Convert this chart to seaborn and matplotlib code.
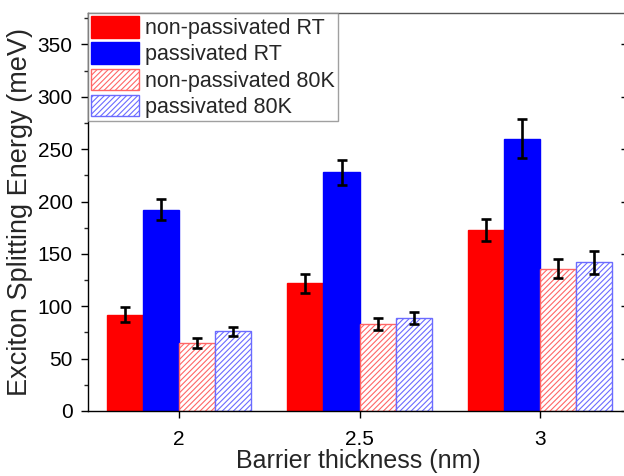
import matplotlib
matplotlib.use("Agg")
import matplotlib.pyplot as plt
import seaborn as sns
import pandas as pd
import numpy as np

categories = ["2", "2.5", "3"]
series = ["non-passivated RT", "passivated RT", "non-passivated 80K", "passivated 80K"]
nonpass_rt = [92, 122, 173]
pass_rt = [192, 228, 260]
nonpass_80k = [65, 83, 136]
pass_80k = [76, 89, 142]
nonpass_rt_err = [7, 9, 10.5]
pass_rt_err = [10, 12, 18.5]
nonpass_80k_err = [4.5, 6, 9]
pass_80k_err = [4, 5.5, 11]

values = [nonpass_rt, pass_rt, nonpass_80k, pass_80k]
errors = [nonpass_rt_err, pass_rt_err, nonpass_80k_err, pass_80k_err]

rows = []
for s, vals in zip(series, values):
    for c, v in zip(categories, vals):
        rows.append({"thickness": c, "series": s, "energy": v})
df = pd.DataFrame(rows)

sns.set_style("ticks")
plt.rcParams["font.family"] = ["Liberation Sans", "DejaVu Sans"]
plt.rcParams["hatch.linewidth"] = 0.8

fig = plt.figure(figsize=(6.24, 4.76), dpi=100)
ax = fig.add_axes([88/624, 65/476, 541/624, 398/476])

palette = {"non-passivated RT": "#ff0000", "passivated RT": "#0000ff",
           "non-passivated 80K": "#ff0000", "passivated 80K": "#0000ff"}
sns.barplot(data=df, x="thickness", y="energy", hue="series", order=categories,
            hue_order=series, palette=palette, errorbar=None, ax=ax,
            width=0.8, saturation=1, legend=False)

styles = [
    dict(face="#ff0000", edge="#ff0000", hatch=None),
    dict(face="#0000ff", edge="#0000ff", hatch=None),
    dict(face="white", edge=(1, 0.4, 0.4), hatch="//////"),
    dict(face="white", edge=(0.42, 0.42, 1.0), hatch="//////"),
]
handles = []
bar_containers = list(ax.containers)
for i, cont in enumerate(bar_containers):
    st = styles[i]
    xs, ys = [], []
    for bar in cont:
        bar.set_facecolor(st["face"])
        bar.set_edgecolor(st["edge"])
        bar.set_linewidth(1.0)
        if st["hatch"]:
            bar.set_hatch(st["hatch"])
        xs.append(bar.get_x() + bar.get_width() / 2)
        ys.append(bar.get_height())
    ax.errorbar(xs, ys, yerr=errors[i], fmt="none", ecolor="black",
                elinewidth=1.9, capsize=3.5, capthick=1.9, zorder=5)
    handles.append(matplotlib.patches.Patch(facecolor=st["face"], edgecolor=st["edge"],
                                            hatch=st["hatch"], linewidth=1.0,
                                            label=series[i]))

ax.set_xlim(-0.5056, 2.494)
ax.set_ylim(0, 380)
ax.set_yticks(np.arange(0, 351, 50))
ax.set_yticks(np.arange(25, 380, 50), minor=True)
ax.tick_params(axis="both", which="major", labelsize=15, length=5, width=1, direction="out", colors="black")
ax.tick_params(axis="y", which="minor", length=3, width=1, direction="out")
ax.tick_params(axis="x", pad=9)
ax.tick_params(axis="y", pad=6)
ax.tick_params(axis="y", which="major", right=True, direction="out")
ax.set_xlabel("Barrier thickness (nm)", fontsize=18, labelpad=0)
ax.set_ylabel("Exciton Splitting Energy (meV)", fontsize=19.5, labelpad=3)
for sp in ax.spines.values():
    sp.set_visible(True)
    sp.set_color("black")
    sp.set_linewidth(1.0)
ax.spines["top"].set_color("#555555")
# inward ticks on the right side
for t in ax.yaxis.get_major_ticks():
    t.tick2line.set_marker(matplotlib.lines.TICKLEFT)
    t.tick2line.set_markersize(6)

leg = ax.legend(handles=handles, loc="upper left", bbox_to_anchor=(0, 1),
                borderaxespad=0, fontsize=15.5, frameon=True, fancybox=False,
                edgecolor="#888888", handlelength=2.2, handleheight=1.15,
                labelspacing=0.15, handletextpad=0.28, borderpad=0.15)
leg.get_frame().set_linewidth(1.0)

fig.savefig("out.png", dpi=100)
